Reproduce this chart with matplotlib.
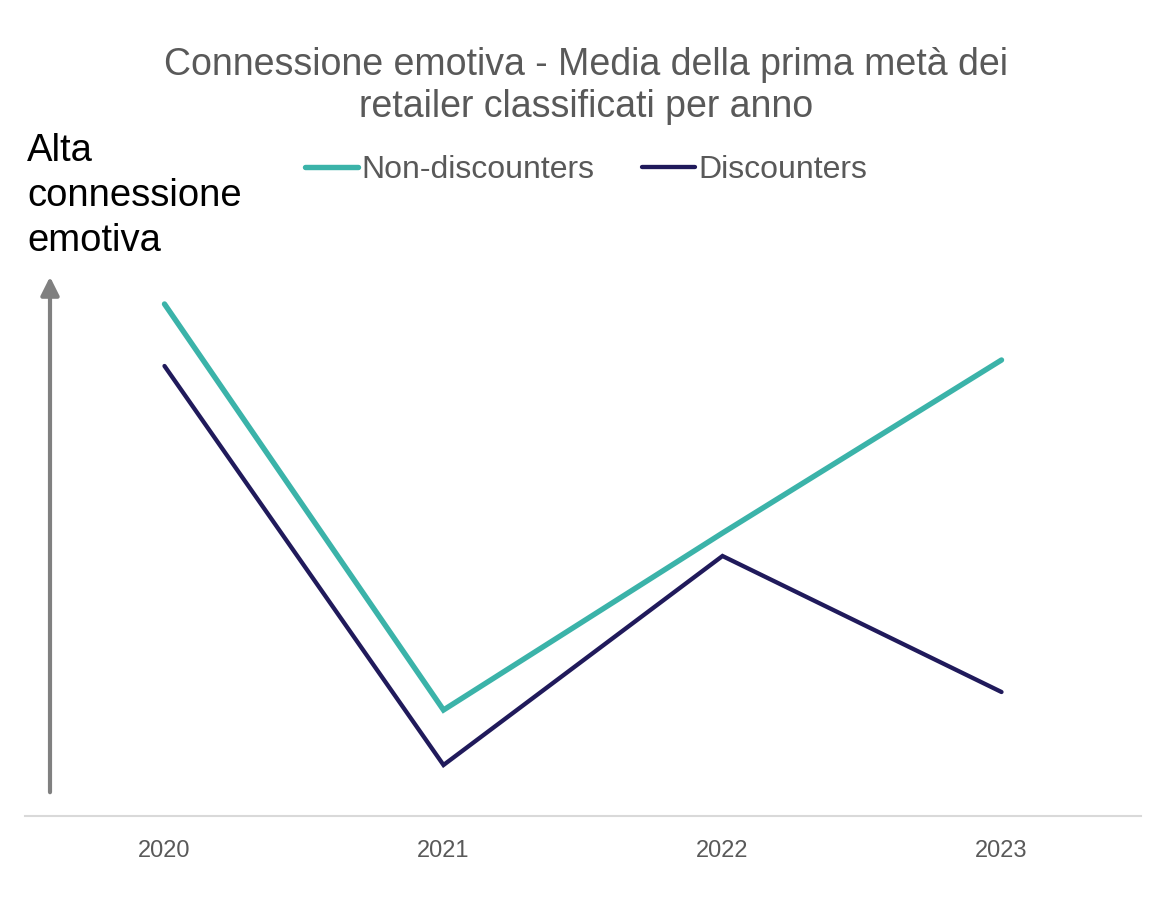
import matplotlib.pyplot as plt
from matplotlib.patches import FancyArrowPatch

plt.rcParams['font.family'] = ['Liberation Sans', 'DejaVu Sans']

years = ["2020", "2021", "2022", "2023"]
non_discounters = [512, 106, 283, 456]
discounters = [450, 51, 260, 124]

teal = "#3BB3A9"
navy = "#201A5B"
grey_text = "#595959"

fig = plt.figure(figsize=(11.73, 8.97), dpi=100)
ax = fig.add_axes([25 / 1173, 81 / 897, 1116 / 1173, 546 / 897])

x = range(len(years))
ax.plot(x, non_discounters, color=teal, lw=3.9, solid_capstyle="round",
        solid_joinstyle="miter", label="Non-discounters")
ax.plot(x, discounters, color=navy, lw=3.1, solid_capstyle="round",
        solid_joinstyle="miter", label="Discounters")

ax.set_xlim(-0.5, 3.5)
ax.set_ylim(0, 546)
ax.set_xticks(list(x))
ax.set_xticklabels(years, fontsize=17, color=grey_text)
ax.tick_params(axis="x", length=0, pad=17)
ax.set_yticks([])
for side in ("top", "right", "left"):
    ax.spines[side].set_visible(False)
ax.spines["bottom"].set_color("#D9D9D9")
ax.spines["bottom"].set_linewidth(1.5)

# Title and legend
fig.text(0.5, 1 - 47 / 897, "Connessione emotiva - Media della prima metà dei\nretailer classificati per anno",
         ha="center", va="top", fontsize=27, color=grey_text, linespacing=1.2)
fig.legend(loc="center", bbox_to_anchor=(586 / 1173, 1 - 170 / 897), ncol=2,
           frameon=False, fontsize=23, handlelength=1.65, handletextpad=0.1,
           columnspacing=1.5, labelcolor=grey_text)

# Vertical arrow with its label
fig.text(27 / 1173, 1 - 133 / 897, "Alta\nconnessione\nemotiva", ha="left", va="top",
         fontsize=27.5, color="black", linespacing=1.32)
fig.patches.append(FancyArrowPatch(
    (50 / 1173, 1 - 795 / 897), (50 / 1173, 1 - 274 / 897), transform=fig.transFigure,
    arrowstyle="-|>,head_length=11,head_width=5.5", mutation_scale=1,
    color="#808080", lw=3))

fig.savefig("out.png", dpi=100)
